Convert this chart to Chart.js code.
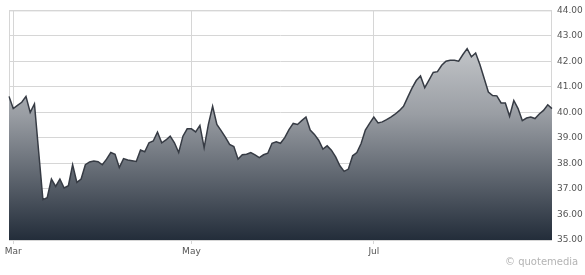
<!DOCTYPE html>
<html>
<head>
<meta charset="utf-8">
<script src="https://cdn.jsdelivr.net/npm/chart.js@4"></script>
<style>
    body { margin: 0; background: #fff; }
    #wrap { position: relative; width: 585px; height: 275px; }
    #credit {
        position: absolute; left: 505px; top: 256px; white-space: nowrap;
        font: 10px "DejaVu Sans", sans-serif; color: #b4b4b4;
    }
</style>
</head>
<body>
<div id="wrap">
    <canvas id="chart" width="585" height="275"></canvas>
    <div id="credit">© quotemedia</div>
</div>
<script>
// closing prices, one per trading day (end of Feb to end of Aug)
const prices = [
    40.63, 40.15, 40.28, 40.40, 40.63, 40.00, 40.33, 38.45, 36.58, 36.66,
    37.39, 37.10, 37.39, 37.04, 37.13, 37.95, 37.26, 37.39, 37.95, 38.06,
    38.10, 38.07, 37.95, 38.17, 38.43, 38.36, 37.84, 38.19, 38.14, 38.11,
    38.08, 38.53, 38.46, 38.81, 38.88, 39.23, 38.81, 38.92, 39.07, 38.81,
    38.43, 39.07, 39.36, 39.36, 39.24, 39.49, 38.62, 39.53, 40.24, 39.53,
    39.29, 39.03, 38.75, 38.66, 38.17, 38.34, 38.36, 38.43, 38.34, 38.23,
    38.34, 38.40, 38.79, 38.85, 38.79, 39.01, 39.33, 39.57, 39.53, 39.68,
    39.82, 39.31, 39.14, 38.91, 38.56, 38.69, 38.52, 38.26, 37.91, 37.69,
    37.78, 38.30, 38.43, 38.78, 39.31, 39.57, 39.82, 39.59, 39.63, 39.72,
    39.82, 39.93, 40.07, 40.24, 40.60, 40.95, 41.25, 41.43, 40.97, 41.27,
    41.57, 41.60, 41.85, 42.01, 42.05, 42.05, 42.01, 42.27, 42.50, 42.18,
    42.33, 41.88, 41.34, 40.80, 40.66, 40.65, 40.37, 40.37, 39.85, 40.47,
    40.15, 39.68, 39.78, 39.82, 39.76, 39.94, 40.08, 40.30, 40.15
];

// month ticks: label and trading-day index of the month's first session
const monthNames = ["Mar", "May", "Jul"];
const monthIndex = [1, 43, 86];

const yMin = 35;
const yMax = 44;

const days = prices.map((_, i) => i);

const gridColor = "#d6d6d6";
const labelFont = { family: "DejaVu Sans", size: 9 };

// thin frame round the plot area
const frame = {
    id: "frame",
    beforeDatasetsDraw(chart) {
        const { ctx, chartArea: a } = chart;
        ctx.save();
        ctx.strokeStyle = gridColor;
        ctx.lineWidth = 1;
        ctx.strokeRect(a.left + 0.5, a.top + 0.5, a.right - a.left - 1, a.bottom - a.top);
        ctx.restore();
    }
};

const ctx = document.getElementById("chart").getContext("2d");

new Chart(ctx, {
    type: "line",
    data: {
        labels: days,
        datasets: [{
            data: prices,
            borderColor: "#363b44",
            borderWidth: 1.5,
            pointRadius: 0,
            tension: 0,
            fill: "start",
            backgroundColor: (c) => {
                const a = c.chart.chartArea;
                if (!a) return "#888";
                const g = c.chart.ctx.createLinearGradient(0, a.top, 0, a.bottom);
                g.addColorStop(0, "#d9dbdd");
                g.addColorStop(0.45, "#9a9ea4");
                g.addColorStop(1, "#232d3a");
                return g;
            }
        }]
    },
    options: {
        responsive: false,
        animation: false,
        layout: { padding: { left: 9, top: 8, right: 0, bottom: 0 } },
        plugins: {
            legend: { display: false },
            tooltip: { enabled: false }
        },
        scales: {
            x: {
                type: "category",
                offset: false,
                border: { display: false },
                grid: { color: gridColor, lineWidth: 1, tickLength: 4 },
                afterBuildTicks: (scale) => {
                    scale.ticks = monthIndex.map(v => ({ value: v }));
                },
                afterFit: (scale) => { scale.height = 35; },
                ticks: {
                    autoSkip: false,
                    maxRotation: 0,
                    padding: 2,
                    color: "#555",
                    font: labelFont,
                    callback: (v) => monthNames[monthIndex.indexOf(v)]
                }
            },
            y: {
                position: "right",
                min: yMin,
                max: yMax,
                border: { display: false },
                grid: { color: gridColor, lineWidth: 1, drawTicks: false },
                afterFit: (scale) => { scale.width = 33; },
                ticks: {
                    stepSize: 1,
                    padding: 5,
                    color: "#555",
                    font: labelFont,
                    callback: (v) => v.toFixed(2)
                }
            }
        }
    },
    plugins: [frame]
});
</script>
</body>
</html>
